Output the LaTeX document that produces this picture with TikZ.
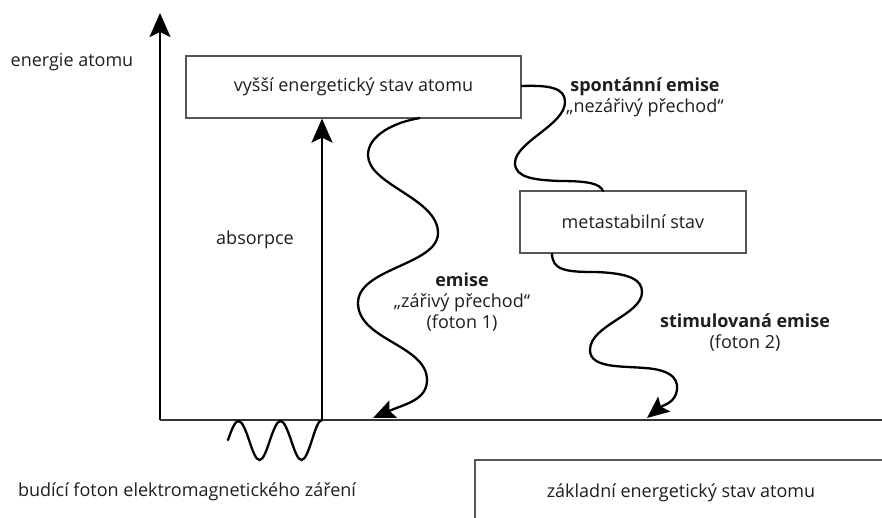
\documentclass[tikz,border=0pt]{standalone}
\usepackage{fontspec}
\setmainfont{Open Sans}
\usetikzlibrary{arrows.meta}
\definecolor{txt}{HTML}{1E1E1E}
\definecolor{boxline}{HTML}{555555}
\begin{document}
\begin{tikzpicture}[x=1pt,y=-1pt,
  lbl/.style={text=txt,font=\fontsize{18}{21}\selectfont,inner sep=0pt,align=center},
  statebox/.style={draw=boxline,line width=1.3pt,fill=white,text=txt,font=\fontsize{18}{21}\selectfont,inner sep=0pt},
  axisarrow/.style={line width=2.2pt,-{Stealth[length=24pt,width=21pt,inset=5pt]}},
  wave/.style={line width=2.3pt,line cap=round},
  wavearrow/.style={line width=2.3pt,-{Stealth[length=22pt,width=19pt,inset=4pt]}},
  baseline/.style={draw=black!80,line width=1.6pt}]
\useasboundingbox (0,0) rectangle (882,517);
% coordinates
\coordinate (O) at (160,420);
\coordinate (top) at (160,13);
\coordinate (bend) at (882,420);
\coordinate (abs0) at (322,420);
% state boxes
\node[statebox,minimum width=335pt,minimum height=62pt] (up) at (353.5,87) {vyšší energetický stav atomu};
\node[statebox,minimum width=226pt,minimum height=62pt] (meta) at (633,222) {metastabilní stav};
\node[statebox,minimum width=412pt,minimum height=66pt] (ground) at (681,493) {základní energetický stav atomu};
% axes
\draw[baseline] (O) -- (bend);
\draw[axisarrow] (O) -- (top);
\draw[axisarrow] (abs0) -- (abs0 |- up.south);
% labels
\node[lbl] (ea) at (72,62) {energie atomu};
\node[lbl] (abs) at (255,240) {absorpce};
\node[lbl] (buz) at (187,492) {budící foton elektromagnetického záření};
\node[lbl] (sp) at (645,97.5) {\textbf{spontánní emise}\\„nezářivý přechod“};
\node[lbl] (em) at (462,302) {\textbf{emise}\\„zářivý přechod“\\(foton 1)};
\node[lbl] (st) at (745,333) {\textbf{stimulovaná emise}\\(foton 2)};
% exciting photon
\coordinate (w0) at (228,440);
\draw[wave] (w0) sin (238.5,421) cos (249,440) sin (259.5,460) cos (270,440)
  sin (280.5,421) cos (291,440) sin (301.5,460) cos (312,440) sin (abs0);
% emission (photon 1)
\coordinate (f1s) at (420,118);
\coordinate (f1e) at (373,418);
\draw[wavearrow] (f1s) .. controls (395,122) and (368,135) .. (368,155)
  .. controls (368,185) and (438,198) .. (438,233)
  .. controls (438,265) and (358,268) .. (358,303)
  .. controls (358,340) and (427,345) .. (427,380)
  .. controls (427,400) and (405,404) .. (f1e);
% spontaneous (non-radiative)
\coordinate (sps) at (up.east |- 0,86);
\coordinate (spe) at (603,191);
\draw[wave] (sps) .. controls (550,85) and (565,88) .. (565,102)
  .. controls (565,125) and (515,142) .. (515,163)
  .. controls (515,178) and (535,180) .. (560,181)
  .. controls (590,181) and (600,184) .. (spe);
% stimulated emission (photon 2)
\coordinate (f2s) at (552,253);
\coordinate (f2e) at (647,418);
\draw[wavearrow] (f2s) .. controls (552,270) and (565,272) .. (595,272)
  .. controls (630,273) and (642,280) .. (642,292)
  .. controls (642,315) and (590,325) .. (590,350)
  .. controls (590,368) and (620,366) .. (645,368)
  .. controls (675,370) and (680,382) .. (676,394)
  .. controls (672,404) and (663,405) .. (f2e);
\end{tikzpicture}
\end{document}
